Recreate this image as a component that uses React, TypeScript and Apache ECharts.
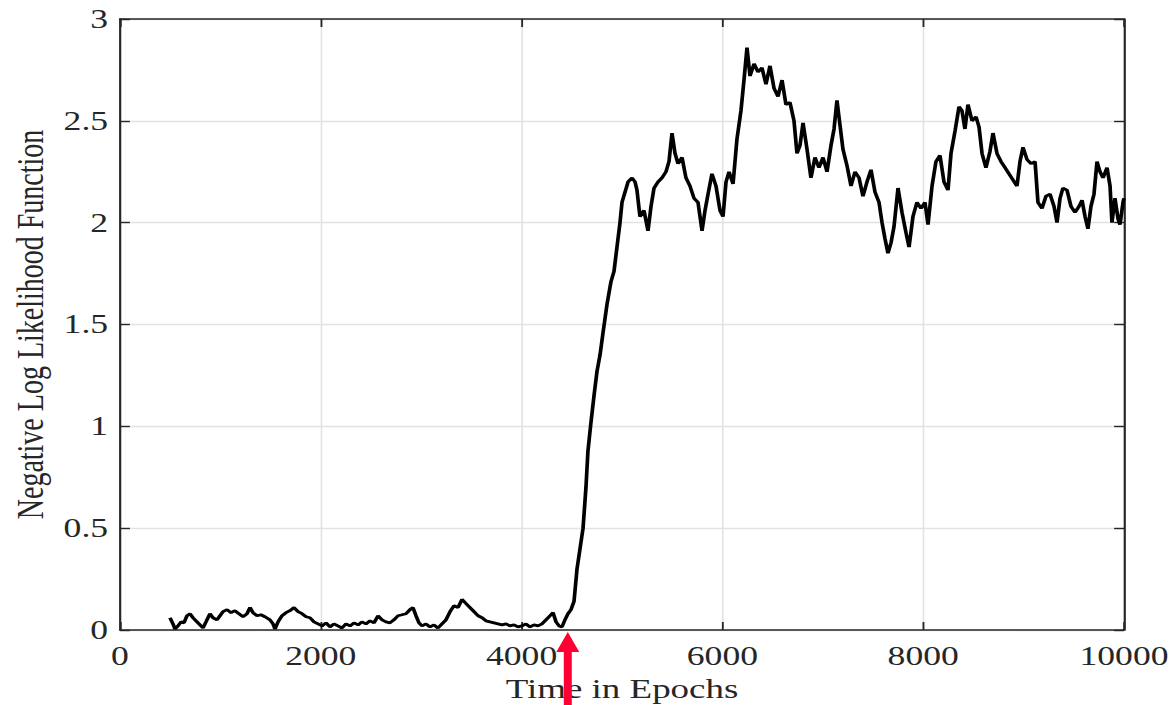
import React, { useEffect, useRef } from "react";
import * as echarts from "echarts";

// [epoch, negative log likelihood]
const nllSeries: number[][] = [
  [498, 0.06], [528, 0.03], [548, 0.005], [578, 0.02], [608, 0.04], [637, 0.035], [667, 0.07], [697, 0.08],
  [727, 0.06], [757, 0.045], [787, 0.03], [827, 0.01], [857, 0.04], [896, 0.08], [926, 0.06], [966, 0.05],
  [996, 0.07], [1026, 0.09], [1066, 0.1], [1106, 0.085], [1145, 0.095], [1185, 0.08], [1225, 0.065], [1265, 0.08],
  [1295, 0.11], [1325, 0.085], [1365, 0.07], [1404, 0.075], [1444, 0.065], [1494, 0.05], [1524, 0.03], [1544, 0.005],
  [1574, 0.04], [1614, 0.07], [1653, 0.085], [1693, 0.095], [1733, 0.11], [1773, 0.09], [1813, 0.08], [1853, 0.065],
  [1892, 0.06], [1932, 0.04], [1972, 0.03], [2012, 0.02], [2052, 0.035], [2092, 0.015], [2131, 0.03], [2171, 0.02],
  [2211, 0.01], [2251, 0.03], [2291, 0.02], [2331, 0.035], [2371, 0.025], [2410, 0.04], [2450, 0.03], [2490, 0.045],
  [2530, 0.035], [2570, 0.07], [2610, 0.05], [2649, 0.04], [2689, 0.035], [2729, 0.05], [2769, 0.07], [2809, 0.075],
  [2849, 0.08], [2888, 0.1], [2918, 0.11], [2948, 0.07], [2978, 0.035], [3008, 0.02], [3048, 0.03], [3088, 0.015],
  [3127, 0.025], [3167, 0.01], [3207, 0.03], [3247, 0.05], [3287, 0.09], [3327, 0.12], [3367, 0.11], [3406, 0.15],
  [3446, 0.13], [3486, 0.11], [3526, 0.09], [3566, 0.07], [3606, 0.06], [3645, 0.045], [3685, 0.04], [3725, 0.035],
  [3765, 0.03], [3805, 0.025], [3845, 0.03], [3884, 0.02], [3924, 0.025], [3964, 0.015], [4004, 0.02], [4044, 0.03],
  [4084, 0.015], [4124, 0.025], [4163, 0.02], [4203, 0.03], [4243, 0.05], [4283, 0.07], [4313, 0.085], [4343, 0.04],
  [4373, 0.02], [4402, 0.015], [4432, 0.05], [4462, 0.08], [4492, 0.1], [4522, 0.14], [4552, 0.3], [4582, 0.4],
  [4612, 0.5], [4641, 0.7], [4661, 0.88], [4691, 1.02], [4721, 1.15], [4751, 1.27], [4781, 1.35], [4811, 1.46],
  [4851, 1.6], [4890, 1.71], [4920, 1.76], [4950, 1.88], [4980, 2.0], [5000, 2.1], [5030, 2.15], [5060, 2.2],
  [5100, 2.22], [5130, 2.2], [5149, 2.16], [5179, 2.03], [5219, 2.06], [5259, 1.96], [5289, 2.08], [5319, 2.17],
  [5359, 2.2], [5398, 2.22], [5438, 2.25], [5468, 2.3], [5498, 2.44], [5528, 2.34], [5558, 2.29], [5598, 2.32],
  [5637, 2.22], [5677, 2.18], [5717, 2.12], [5757, 2.1], [5797, 1.96], [5827, 2.06], [5857, 2.14], [5896, 2.24],
  [5936, 2.18], [5976, 2.06], [6006, 2.03], [6036, 2.2], [6066, 2.25], [6106, 2.19], [6145, 2.41], [6185, 2.55],
  [6215, 2.7], [6245, 2.86], [6275, 2.72], [6315, 2.78], [6355, 2.74], [6394, 2.76], [6434, 2.68], [6474, 2.77],
  [6514, 2.66], [6554, 2.62], [6594, 2.7], [6633, 2.58], [6673, 2.59], [6713, 2.5], [6743, 2.34], [6773, 2.38],
  [6803, 2.49], [6843, 2.36], [6882, 2.22], [6922, 2.32], [6962, 2.27], [7002, 2.32], [7042, 2.25], [7082, 2.38],
  [7112, 2.46], [7141, 2.6], [7171, 2.48], [7201, 2.36], [7241, 2.28], [7281, 2.18], [7321, 2.25], [7361, 2.22],
  [7400, 2.13], [7440, 2.2], [7480, 2.26], [7520, 2.15], [7560, 2.1], [7590, 2.0], [7620, 1.92], [7649, 1.85],
  [7679, 1.9], [7709, 1.98], [7749, 2.17], [7789, 2.05], [7829, 1.95], [7859, 1.88], [7898, 2.03], [7938, 2.1],
  [7978, 2.07], [8018, 2.1], [8048, 1.99], [8088, 2.18], [8127, 2.3], [8167, 2.33], [8207, 2.2], [8247, 2.16],
  [8277, 2.34], [8317, 2.45], [8357, 2.57], [8386, 2.55], [8416, 2.46], [8446, 2.58], [8486, 2.5], [8526, 2.52],
  [8556, 2.47], [8586, 2.34], [8625, 2.27], [8665, 2.35], [8695, 2.44], [8735, 2.34], [8775, 2.3], [8815, 2.27],
  [8855, 2.24], [8894, 2.21], [8934, 2.18], [8964, 2.3], [8994, 2.37], [9034, 2.31], [9074, 2.29], [9114, 2.3],
  [9143, 2.1], [9183, 2.07], [9223, 2.13], [9263, 2.14], [9303, 2.08], [9333, 2.0], [9363, 2.12], [9392, 2.17],
  [9432, 2.16], [9472, 2.08], [9512, 2.05], [9552, 2.08], [9582, 2.11], [9612, 2.03], [9641, 1.97], [9671, 2.08],
  [9701, 2.14], [9731, 2.3], [9761, 2.25], [9791, 2.22], [9831, 2.27], [9861, 2.18], [9880, 2.0], [9910, 2.12],
  [9940, 2.02], [9960, 1.99], [9990, 2.1], [10000, 2.12],
];

const xRange = [0, 10000];
const xStep = 2000;
const yRange = [0, 3];
const yStep = 0.5;
const xTitle = "Time in Epochs";
const yTitle = "Negative Log Likelihood Function";
const arrowEpoch = 4460;

// the reference picture is horizontally stretched
const OUT_W = 1171;
const OUT_H = 705;
const IN_W = 887;
const STRETCH = OUT_W / IN_W;

export default function App() {
  const ref = useRef<HTMLDivElement>(null);

  useEffect(() => {
    if (!ref.current) return;
    const chart = echarts.init(ref.current, null, { renderer: "svg", width: IN_W, height: OUT_H });
    const font = "'Liberation Serif', 'Times New Roman', serif";
    const ink = "#262626";
    const gridLeft = 120 / STRETCH;
    const gridRight = IN_W - 1124 / STRETCH;
    const plain = (v: number) => String(v);

    chart.setOption({
      animation: false,
      backgroundColor: "#ffffff",
      grid: {
        left: gridLeft,
        right: gridRight,
        top: 19,
        bottom: 75,
        show: false,
        containLabel: false,
        outerBoundsMode: "none",
      },
      xAxis: [
        {
          type: "value",
          min: xRange[0],
          max: xRange[1],
          interval: xStep,
          name: xTitle,
          nameLocation: "middle",
          nameGap: 45,
          nameTextStyle: { fontFamily: font, fontSize: 28, color: ink },
          axisLine: { show: true, onZero: false, lineStyle: { color: ink, width: 1.6 } },
          axisTick: { show: true, inside: true, length: 8, lineStyle: { color: ink, width: 1.4 } },
          axisLabel: { fontFamily: font, fontSize: 27, color: ink, margin: 13, formatter: plain },
          splitLine: { show: true, lineStyle: { color: "#e2e2e2", width: 1.2 } },
        },
        {
          type: "value",
          position: "top",
          min: xRange[0],
          max: xRange[1],
          interval: xStep,
          axisLine: { show: true, onZero: false, lineStyle: { color: ink, width: 1.6 } },
          axisTick: { show: true, inside: true, length: 8, lineStyle: { color: ink, width: 1.4 } },
          axisLabel: { show: false },
          splitLine: { show: false },
        },
      ],
      yAxis: [
        {
          type: "value",
          min: yRange[0],
          max: yRange[1],
          interval: yStep,
          name: yTitle,
          nameLocation: "middle",
          nameGap: 52,
          nameTextStyle: { fontFamily: font, fontSize: 28, color: ink },
          axisLine: { show: true, onZero: false, lineStyle: { color: ink, width: 1.6 } },
          axisTick: { show: true, inside: true, length: 7.5, lineStyle: { color: ink, width: 1.4 } },
          axisLabel: { fontFamily: font, fontSize: 27, color: ink, margin: 9, formatter: plain },
          splitLine: { show: true, lineStyle: { color: "#e2e2e2", width: 1.4 } },
        },
        {
          type: "value",
          position: "right",
          min: yRange[0],
          max: yRange[1],
          interval: yStep,
          axisLine: { show: true, onZero: false, lineStyle: { color: ink, width: 1.6 } },
          axisTick: { show: true, inside: true, length: 7.5, lineStyle: { color: ink, width: 1.4 } },
          axisLabel: { show: false },
          splitLine: { show: false },
        },
      ],
      series: [
        {
          type: "line",
          xAxisIndex: 0,
          yAxisIndex: 0,
          data: nllSeries,
          showSymbol: false,
          symbol: "none",
          lineStyle: { color: "#000000", width: 2.8 },
          z: 3,
        },
      ],
    });

    const p = chart.convertToPixel({ xAxisIndex: 0, yAxisIndex: 0 }, [arrowEpoch, 0]) as number[];
    const cx = p[0];
    const tipY = p[1] + 2;
    const headH = 20;
    const headHalf = 11.5 / STRETCH;
    const shaftHalf = 4 / STRETCH;
    chart.setOption({
      graphic: [
        {
          type: "polygon",
          shape: {
            points: [
              [cx, tipY],
              [cx - headHalf, tipY + headH],
              [cx + headHalf, tipY + headH],
            ],
          },
          style: { fill: "#ff0033" },
          z: 10,
        },
        {
          type: "rect",
          shape: { x: cx - shaftHalf, y: tipY + headH - 1, width: shaftHalf * 2, height: OUT_H },
          style: { fill: "#ff0033" },
          z: 10,
        },
      ],
    });

    return () => chart.dispose();
  }, []);

  return (
    <div
      style={{
        position: "fixed",
        left: 0,
        top: 0,
        width: OUT_W,
        height: OUT_H,
        overflow: "hidden",
        background: "#ffffff",
      }}
    >
      <div
        ref={ref}
        style={{
          width: IN_W,
          height: OUT_H,
          transform: `scaleX(${STRETCH})`,
          transformOrigin: "0 0",
        }}
      />
    </div>
  );
}
